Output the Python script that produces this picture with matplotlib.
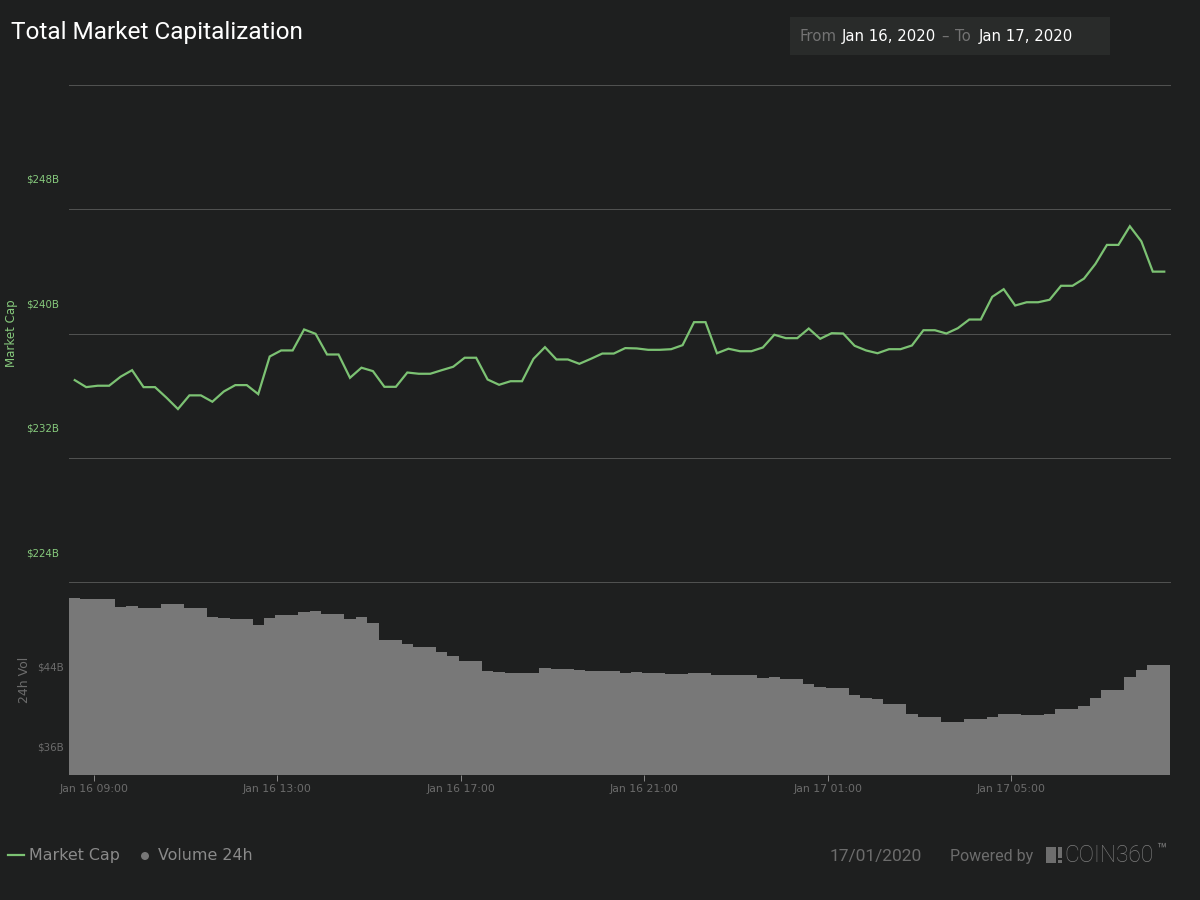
import matplotlib
import matplotlib.pyplot as plt
import matplotlib.patches as patches
import matplotlib.ticker as ticker
import pandas as pd
matplotlib.use("Agg")

# ============================================================
# Data ($B, one sample every 15 min)
# ============================================================
market_cap = [
    237.00, 236.55, 236.64, 236.64, 237.22, 237.64, 236.55, 236.55, 235.87, 235.14,
    236.02, 236.02, 235.61, 236.27, 236.68, 236.68, 236.10, 238.52, 238.91, 238.91,
    240.26, 239.98, 238.65, 238.65, 237.15, 237.80, 237.58, 236.57, 236.57, 237.49,
    237.41, 237.41, 237.64, 237.86, 238.44, 238.44, 237.04, 236.70, 236.93, 236.93,
    238.37, 239.12, 238.33, 238.33, 238.05, 238.37, 238.71, 238.71, 239.06, 239.04,
    238.95, 238.95, 238.99, 239.25, 240.73, 240.73, 238.73, 239.02, 238.86, 238.86,
    239.10, 239.92, 239.70, 239.70, 240.32, 239.66, 240.02, 240.00, 239.21, 238.91,
    238.73, 238.99, 238.99, 239.23, 240.21, 240.21, 240.00, 240.34, 240.90, 240.90,
    242.36, 242.85, 241.80, 242.01, 242.01, 242.17, 243.07, 243.07, 243.53, 244.48,
    245.70, 245.70, 246.90, 245.93, 243.98, 243.98,
]
volume = [
    50.8, 50.7, 50.7, 50.7, 49.9, 50.0, 49.8, 49.8, 50.2, 50.2,
    49.8, 49.8, 48.9, 48.8, 48.7, 48.7, 48.1, 48.8, 49.1, 49.1,
    49.4, 49.5, 49.2, 49.2, 48.7, 48.9, 48.3, 46.6, 46.6, 46.2,
    45.9, 45.9, 45.4, 45.0, 44.5, 44.5, 43.5, 43.4, 43.3, 43.3,
    43.3, 43.8, 43.7, 43.7, 43.6, 43.5, 43.5, 43.5, 43.3, 43.4,
    43.3, 43.3, 43.2, 43.2, 43.3, 43.3, 43.1, 43.1, 43.1, 43.1,
    42.8, 42.9, 42.7, 42.7, 42.2, 41.9, 41.8, 41.8, 41.1, 40.8,
    40.7, 40.2, 40.2, 39.2, 38.9, 38.9, 38.4, 38.4, 38.7, 38.7,
    38.9, 39.2, 39.2, 39.1, 39.1, 39.2, 39.7, 39.7, 40.0, 40.8,
    41.6, 41.6, 42.9, 43.6, 44.1, 44.1,
]
times = pd.date_range("2020-01-16 08:35", periods=len(market_cap), freq="15min")

tick_times = pd.to_datetime(["2020-01-16 09:00", "2020-01-16 13:00", "2020-01-16 17:00",
                             "2020-01-16 21:00", "2020-01-17 01:00", "2020-01-17 05:00"])
tick_labels = ["Jan 16 09:00", "Jan 16 13:00", "Jan 16 17:00",
               "Jan 16 21:00", "Jan 17 01:00", "Jan 17 05:00"]
cap_ticks = [224, 232, 240, 248, 256]
cap_labels = ["$224B", "$232B", "$240B", "$248B"]
vol_ticks = [36, 44]
vol_labels = ["$36B", "$44B"]

# ============================================================
# Style
# ============================================================
BG = "#1e1f1f"
GREEN = "#7cc273"
GREEN_TXT = "#86c97c"
BAR = "#787878"
GRID = "#505150"
MUTED = "#6c6c6c"
W, H = 1200, 900

fig = plt.figure(figsize=(12, 9), dpi=100, facecolor=BG)

def rect(left, top, right, bottom):
    """Axes position from pixel edges."""
    return [left / W, 1 - bottom / H, (right - left) / W, (bottom - top) / H]

def txt(x, y, s, **kw):
    """Figure text at pixel coordinates."""
    kw.setdefault("va", "center")
    return fig.text(x / W, 1 - y / H, s, **kw)

def box(x0, y0, x1, y1, color):
    fig.add_artist(patches.Rectangle((x0 / W, 1 - y1 / H), (x1 - x0) / W, (y1 - y0) / H,
                                     transform=fig.transFigure, facecolor=color,
                                     edgecolor="none"))

half = pd.Timedelta(minutes=7.5)
xlim = (times[0] - half, times[-1] + half)

# ============================================================
# Market cap panel
# ============================================================
ax = fig.add_axes(rect(69, 84.8, 1170, 582.2))
ax.set_facecolor(BG)
ax.plot(times, market_cap, color=GREEN, lw=1.6, solid_joinstyle="miter", zorder=3)
ax.set_xlim(xlim)
ax.set_ylim(224, 256)
ax.set_yticks(cap_ticks)
ax.set_yticklabels([])
ax.grid(axis="y", color=GRID, lw=0.75, clip_on=False)
ax.set_axisbelow(True)
ax.tick_params(length=0, labelbottom=False)
ax.set_xticks([])
for s in ax.spines.values():
    s.set_visible(False)
# labels sit well above their grid lines in the original
for val, lab in zip(cap_ticks, cap_labels):
    ax.annotate(lab, xy=(0, val), xycoords=ax.get_yaxis_transform(),
                xytext=(-7.2, 21), textcoords="offset points",
                ha="right", va="center", color=GREEN_TXT, fontsize=7.4)

# ============================================================
# Volume panel
# ============================================================
ax2 = fig.add_axes(rect(69, 582, 1170, 775))
ax2.set_facecolor("none")
ax2.bar(times, volume, width=15 / 1440, color=BAR, linewidth=0, antialiased=False, bottom=0)
ax2.set_xlim(xlim)
ax2.set_ylim(33.1, 52.4)
ax2.set_yticks(vol_ticks)
ax2.set_yticklabels(vol_labels, color=MUTED, fontsize=7.4)
ax2.tick_params(axis="y", length=0, pad=3.6)
ax2.set_xticks(tick_times)
ax2.set_xticklabels(tick_labels, color=MUTED, fontsize=7.8)
ax2.tick_params(axis="x", length=4.5, width=0.7, color="#8a8a8a", pad=2.2)
ax2.xaxis.set_minor_locator(ticker.NullLocator())
for s in ax2.spines.values():
    s.set_visible(False)

# ============================================================
# Axis titles, header, footer
# ============================================================
txt(12, 333, "Market Cap", color=GREEN_TXT, fontsize=8.5, rotation=90, ha="center")
txt(24, 680, "24h Vol", color=MUTED, fontsize=9, rotation=90, ha="center")

txt(11, 32, "Total Market Capitalization", color="white", fontsize=17.6, family="Roboto")

box(790, 17, 1110, 55, "#292b2a")
txt(799.5, 36.5, "From", color="#737373", fontsize=10.7)
txt(842, 36.5, "Jan 16, 2020", color="white", fontsize=10.7)
txt(941, 36.5, "\u2013", color="#737373", fontsize=10.7)
txt(955, 36.5, "To", color="#737373", fontsize=10.7)
txt(979, 36.5, "Jan 17, 2020", color="white", fontsize=10.7)

fig.add_artist(plt.Line2D([8 / W, 24 / W], [1 - 855 / H] * 2, color=GREEN, lw=1.6))
txt(29, 855.5, "Market Cap", color="#8a8a8a", fontsize=11.4)
fig.add_artist(patches.Ellipse((145 / W, 1 - 856 / H), 8 / W, 8 / H, transform=fig.transFigure,
                               facecolor="#777777", edgecolor="none"))
txt(158, 855.5, "Volume 24h", color="#8a8a8a", fontsize=11.4)

txt(830, 857, "17/01/2020", color=MUTED, fontsize=12.5, family="Roboto")
txt(950, 857, "Powered by", color=MUTED, fontsize=11.5, family="Roboto")
box(1046, 847, 1056, 863, "#6e6e6e")
box(1057.5, 847, 1061.5, 857.5, "#6e6e6e")
box(1057.5, 859.5, 1061.5, 863, "#6e6e6e")
txt(1064.5, 856, "COIN360", color="#7c7c7c", fontsize=16.4, family="Roboto", weight="light")
txt(1156, 850, "\u2122", color="#7c7c7c", fontsize=12, family="Roboto")

fig.savefig("out.png", dpi=100, facecolor=BG)
